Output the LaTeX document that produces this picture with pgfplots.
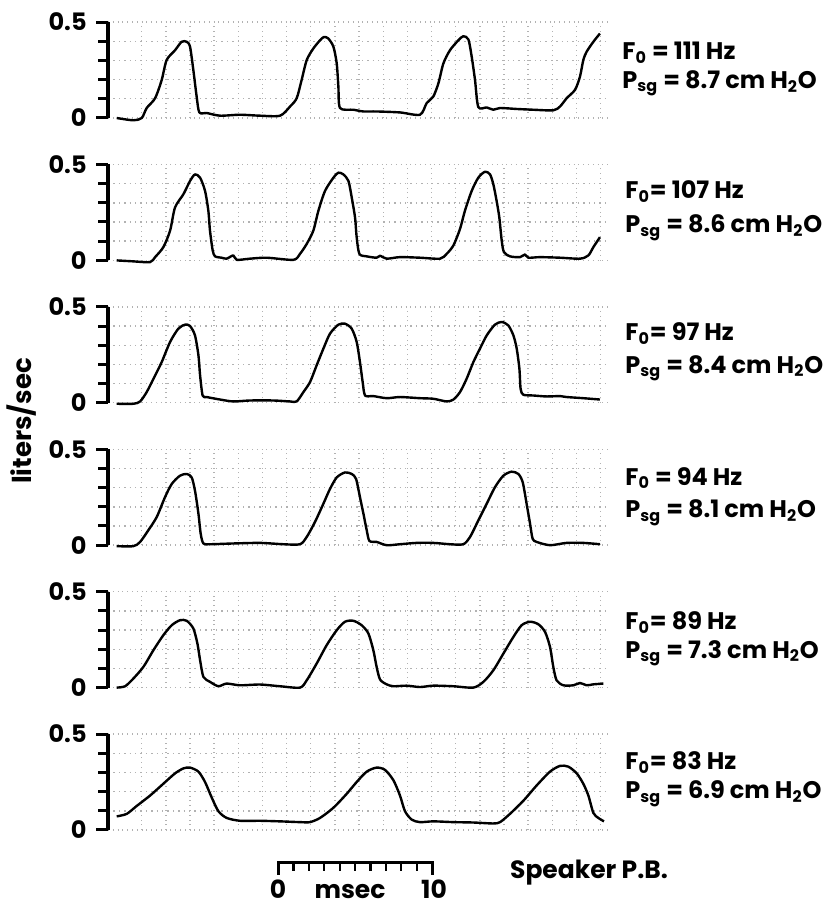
\documentclass[border=0pt]{standalone}
\usepackage{fontspec}
\setmainfont{Poppins}
\usepackage{pgfplots}
\usepackage{pgfplotstable}
\pgfplotsset{compat=1.18}

% glottal flow traces, x in ms (arbitrary origin), y in liters/sec
\pgfplotstableread{
x y
1.11 0
2.22 -0.012
2.78 0
3.11 0.052
3.67 0.103
4.11 0.198
4.44 0.302
5.00 0.353
5.44 0.397
5.78 0.397
6.00 0.371
6.22 0.250
6.44 0.112
6.62 0.029
7.11 0.026
8.00 0.012
9.33 0.017
10.67 0.012
12.00 0.012
12.67 0.060
13.11 0.103
13.44 0.198
13.78 0.302
14.22 0.362
14.67 0.405
14.93 0.422
15.22 0.414
15.56 0.371
15.78 0.284
15.89 0.164
16.00 0.052
16.89 0.043
17.56 0.034
18.44 0.034
20.00 0.029
21.33 0.017
21.78 0.078
22.22 0.112
22.56 0.181
22.89 0.284
23.33 0.353
23.89 0.405
24.22 0.426
24.56 0.409
24.78 0.319
25.00 0.198
25.22 0.057
25.78 0.055
26.22 0.043
26.67 0.052
27.78 0.047
28.89 0.043
30.22 0.040
30.67 0.060
31.11 0.103
31.67 0.147
32.00 0.216
32.22 0.302
32.44 0.345
32.89 0.397
33.33 0.440
}\pa

\pgfplotstableread{
x y
1.11 0
2.22 -0.005
3.33 -0.009
3.67 0.017
4.22 0.069
4.67 0.155
5.00 0.276
5.56 0.345
6.00 0.414
6.33 0.448
6.67 0.431
7.00 0.362
7.22 0.259
7.33 0.155
7.51 0.052
7.67 0.021
8.11 0.014
8.44 0.009
8.89 0.026
9.11 0.003
10.00 0.009
11.11 0.014
12.89 0.003
13.33 0.034
13.78 0.086
14.22 0.155
14.56 0.259
15.00 0.362
15.56 0.431
15.89 0.457
16.22 0.448
16.56 0.414
16.78 0.328
17.00 0.224
17.11 0.121
17.29 0.034
17.78 0.021
18.44 0.014
18.67 0.024
19.11 0.009
20.00 0.017
21.33 0.014
22.67 0.009
23.11 0.034
23.56 0.078
24.00 0.164
24.33 0.259
24.78 0.362
25.22 0.431
25.67 0.462
26.00 0.448
26.22 0.397
26.44 0.310
26.62 0.224
26.78 0.103
26.93 0.043
27.33 0.021
28.00 0.017
28.33 0.031
28.56 0.014
29.33 0.017
30.67 0.014
32.00 0.009
32.56 0.026
32.89 0.069
33.33 0.121
}\pb

\pgfplotstableread{
x y
1.11 -0.005
2.22 -0.005
2.67 0.007
3.11 0.056
3.56 0.125
4.11 0.212
4.67 0.317
5.22 0.386
5.67 0.407
6.00 0.400
6.33 0.351
6.56 0.247
6.67 0.143
6.84 0.038
7.11 0.030
8.00 0.017
8.89 0.007
10.00 0.012
11.56 0.012
12.67 0.007
13.11 0.007
13.56 0.056
14.00 0.108
14.44 0.195
14.89 0.282
15.33 0.360
15.89 0.407
16.33 0.412
16.78 0.386
17.11 0.317
17.33 0.212
17.51 0.108
17.67 0.038
18.22 0.035
19.11 0.024
20.00 0.030
21.33 0.024
22.22 0.021
23.11 0.007
23.56 0.017
24.00 0.056
24.44 0.125
24.89 0.212
25.33 0.282
25.78 0.351
26.33 0.407
26.78 0.421
27.22 0.403
27.56 0.351
27.78 0.282
27.96 0.177
28.04 0.073
28.22 0.042
28.89 0.038
29.78 0.033
30.67 0.035
31.11 0.030
32.22 0.024
33.33 0.017
}\pc

\pgfplotstableread{
x y
1.11 -0.005
2.22 -0.005
2.67 0.017
3.22 0.078
3.78 0.147
4.33 0.250
4.78 0.319
5.33 0.362
5.78 0.371
6.11 0.353
6.33 0.284
6.56 0.164
6.71 0.060
6.89 0.009
7.33 0.005
8.89 0.009
10.67 0.012
12.22 0.005
13.33 0.005
13.78 0.043
14.33 0.121
14.89 0.216
15.33 0.293
15.78 0.353
16.33 0.379
16.78 0.371
17.07 0.345
17.33 0.250
17.56 0.164
17.78 0.078
17.96 0.022
18.44 0.017
19.11 0
20.00 0.005
21.11 0.012
22.22 0.012
23.33 0.005
24.22 0.005
24.67 0.043
25.22 0.129
25.78 0.216
26.33 0.302
26.89 0.362
27.44 0.383
27.89 0.371
28.18 0.328
28.44 0.216
28.67 0.112
28.84 0.034
29.11 0.017
30.00 0
31.11 0.012
32.22 0.012
33.33 0.005
}\pd

\pgfplotstableread{
x y
1.11 0
1.67 0.007
2.22 0.047
2.89 0.108
3.56 0.195
4.22 0.273
4.78 0.325
5.33 0.351
5.78 0.348
6.22 0.308
6.49 0.230
6.67 0.143
6.89 0.056
7.33 0.030
7.89 0.007
8.44 0.021
9.33 0.012
10.67 0.016
12.00 0.007
13.33 0
13.78 0.038
14.44 0.125
15.11 0.221
15.78 0.299
16.33 0.343
16.89 0.348
17.44 0.325
17.89 0.282
18.22 0.195
18.44 0.108
18.67 0.042
19.11 0.017
19.56 0.007
20.44 0.010
21.33 0.003
22.22 0.010
23.56 0.007
24.89 0
25.56 0.030
26.22 0.090
26.89 0.177
27.56 0.264
28.11 0.325
28.67 0.343
29.22 0.330
29.67 0.290
30.00 0.212
30.22 0.108
30.44 0.038
30.89 0.012
31.56 0.012
32.00 0.024
32.44 0.012
32.89 0.017
33.56 0.021
}\pe

\pgfplotstableread{
x y
1.11 0.071
1.78 0.084
2.44 0.125
3.33 0.179
4.22 0.241
5.00 0.295
5.56 0.321
6.00 0.325
6.56 0.304
7.00 0.250
7.44 0.170
7.89 0.098
8.44 0.063
9.33 0.048
10.67 0.048
12.00 0.045
13.33 0.041
14.00 0.041
14.67 0.063
15.56 0.116
16.44 0.188
17.11 0.250
17.78 0.304
18.44 0.325
19.00 0.313
19.56 0.259
20.00 0.179
20.33 0.098
20.78 0.054
21.33 0.041
22.22 0.045
23.56 0.041
24.89 0.039
26.22 0.034
26.67 0.041
27.33 0.084
28.22 0.152
29.11 0.232
30.00 0.304
30.67 0.334
31.22 0.330
31.78 0.295
32.22 0.241
32.56 0.179
32.89 0.089
33.22 0.063
33.60 0.045
}\pf

\pgfplotsset{
  panel/.style={
    scale only axis, width=251pt, height=48pt,
    anchor=south west, clip=false,
    xmin=0.53, xmax=34.0, ymin=0, ymax=0.5,
    axis x line=bottom, axis y line=left,
    x axis line style={draw=none},
    y axis line style={-, line width=1.6pt},
    xtick={2.78,4.39,...,33.5}, xticklabels={},
    xtick style={draw=none},
    xmajorgrids, ymajorgrids, yminorgrids,
    grid style={dotted, gray!60, line width=0.7pt},
    minor grid style={dotted, gray!60, line width=0.7pt},
    ytick={0,0.5}, yticklabels={},
    minor ytick={0.1,0.2,0.3,0.4},
    tick align=outside,
    major tick length=6pt, minor tick length=5pt,
    ytick style={line width=1.5pt, black},
    minor y tick style={line width=1.5pt, black},
  },
  trace/.style={black, line width=1.2pt, line join=round, smooth, tension=0.45},
}
\tikzset{
  lab/.style={anchor=west, inner sep=0pt, font=\bfseries\fontsize{12}{14}\selectfont},
  txt/.style={inner sep=0pt, font=\bfseries\fontsize{12.5}{14}\selectfont},
  tl/.style={anchor=east, inner sep=0pt, xshift=-10.5pt, font=\bfseries\fontsize{12}{12}\selectfont},
}
% tick values 0 and 0.5 beside each panel's bracket
\newcommand\ylabs{%
  \node[tl] at (axis cs:0.53,0) {0};
  \node[tl] at (axis cs:0.53,0.5) {0.5};}

\begin{document}
\begin{tikzpicture}
\useasboundingbox (0,0) rectangle (412.5pt,453.5pt);

\begin{axis}[panel, at={(54pt,394.5pt)}]
\addplot[trace] table {\pa};
\ylabs
\node[lab] at (axis cs:34.8,0.34) {F\textsubscript{0} = 111 Hz};
\node[lab] at (axis cs:34.8,0.18) {P\textsubscript{sg} = 8.7 cm H\textsubscript{2}O};
\end{axis}

\begin{axis}[panel, at={(54pt,323.3pt)}]
\addplot[trace] table {\pb};
\ylabs
\node[lab] at (axis cs:35.0,0.36) {F\textsubscript{0}= 107 Hz};
\node[lab] at (axis cs:35.0,0.17) {P\textsubscript{sg} = 8.6 cm H\textsubscript{2}O};
\end{axis}

\begin{axis}[panel, at={(54pt,252.1pt)}]
\addplot[trace] table {\pc};
\ylabs
\node[lab] at (axis cs:35.0,0.36) {F\textsubscript{0}= 97 Hz};
\node[lab] at (axis cs:35.0,0.18) {P\textsubscript{sg} = 8.4 cm H\textsubscript{2}O};
\end{axis}

\begin{axis}[panel, at={(54pt,180.9pt)}]
\addplot[trace] table {\pd};
\ylabs
\node[lab] at (axis cs:35.0,0.35) {F\textsubscript{0} = 94 Hz};
\node[lab] at (axis cs:35.0,0.17) {P\textsubscript{sg} = 8.1 cm H\textsubscript{2}O};
\end{axis}

\begin{axis}[panel, at={(54pt,109.7pt)}]
\addplot[trace] table {\pe};
\ylabs
\node[lab] at (axis cs:35.0,0.34) {F\textsubscript{0}= 89 Hz};
\node[lab] at (axis cs:35.0,0.18) {P\textsubscript{sg} = 7.3 cm H\textsubscript{2}O};
\end{axis}

\begin{axis}[panel, at={(54pt,38.5pt)}]
\addplot[trace] table {\pf};
\ylabs
\node[lab] at (axis cs:35.0,0.35) {F\textsubscript{0}= 83 Hz};
\node[lab] at (axis cs:35.0,0.19) {P\textsubscript{sg} = 6.9 cm H\textsubscript{2}O};
\end{axis}

% y label
\node[rotate=90, font=\bfseries\fontsize{13}{13}\selectfont] at (11pt,243pt) {liters/sec};

% time scale bar
\draw[line width=1.5pt] (139pt,16pt) -- (139pt,22pt) -- (216pt,22pt) -- (216pt,16pt);
\foreach \k in {1,...,9}
  \draw[line width=1.1pt] ({139pt+\k*7.7pt},22pt) -- ({139pt+\k*7.7pt},18pt);
\node[txt, anchor=base] at (139pt,4.5pt) {0};
\node[txt, anchor=base] at (175pt,4.5pt) {msec};
\node[txt, anchor=base] at (217pt,4.5pt) {10};
\node[txt] at (294.5pt,17pt) {Speaker P.B.};
\end{tikzpicture}
\end{document}
